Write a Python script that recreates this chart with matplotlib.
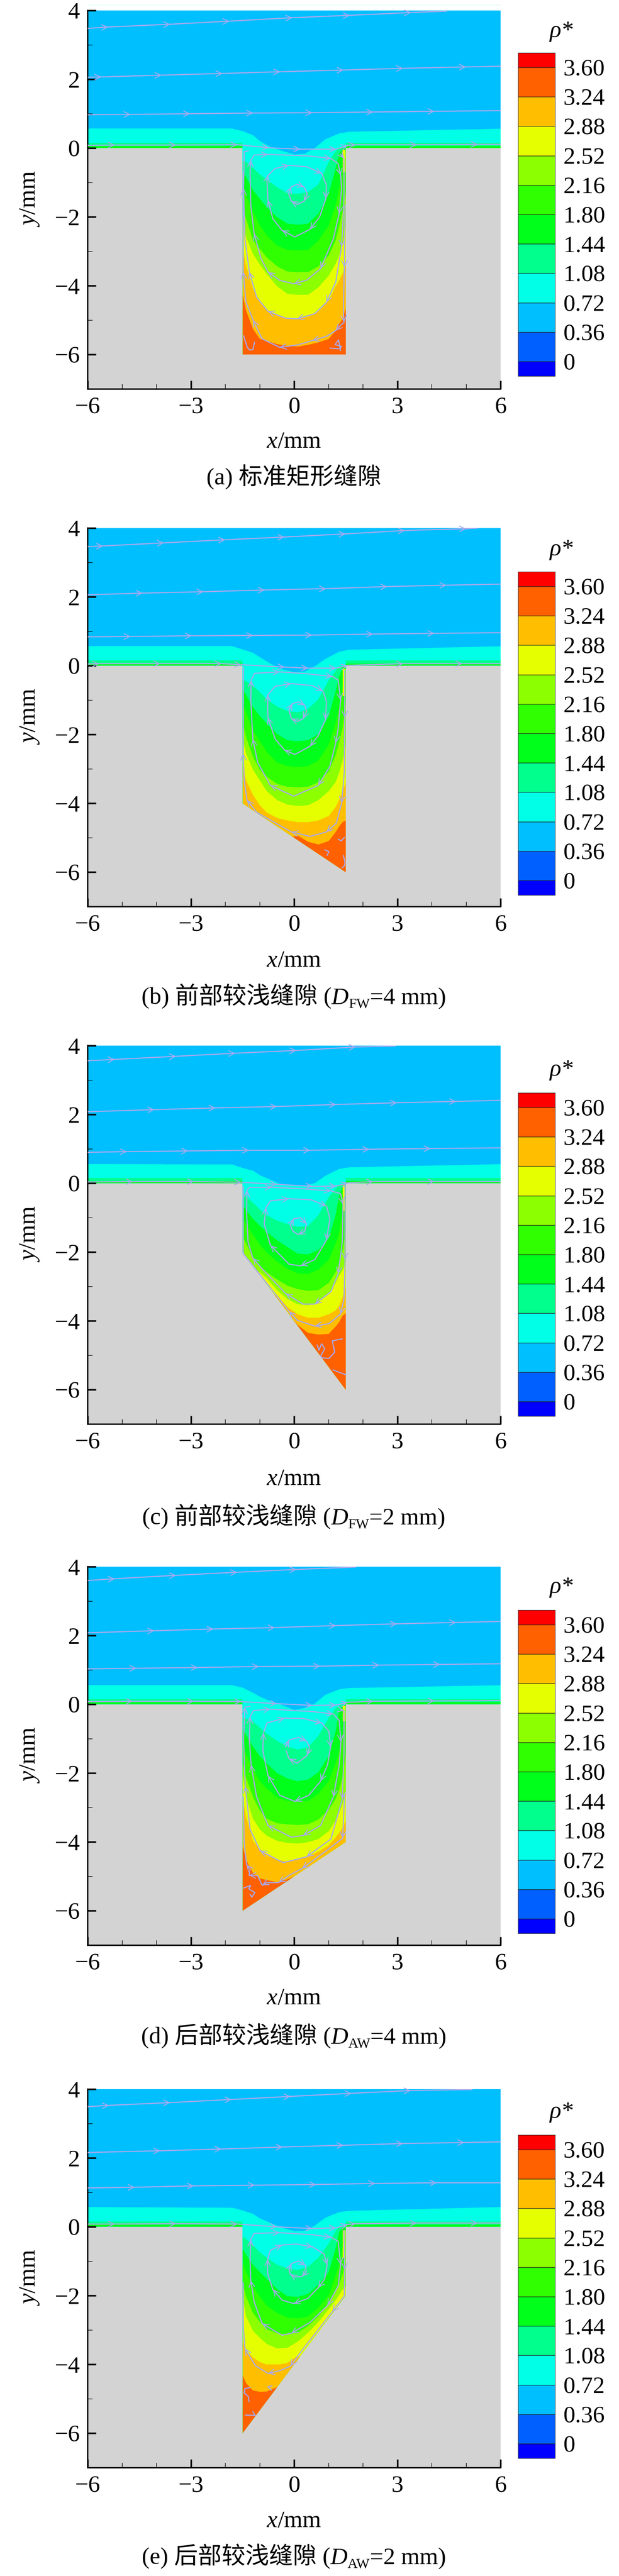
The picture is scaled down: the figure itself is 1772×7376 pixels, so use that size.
import matplotlib
matplotlib.use('Agg')
import matplotlib.pyplot as plt
from matplotlib.patches import PathPatch
from matplotlib.path import Path

plt.rcParams['font.family'] = ['Liberation Serif', 'Noto Sans CJK SC']
plt.rcParams['mathtext.fontset'] = 'custom'
plt.rcParams['mathtext.rm'] = 'Liberation Serif'
plt.rcParams['mathtext.it'] = 'Liberation Serif:italic'

W, H = 1772, 7376
PT = 0.72  # px --> pt at dpi 100

# colour bands, bottom to top of the legend
LEVELS = [-0.18, 0, 0.36, 0.72, 1.08, 1.44, 1.80, 2.16, 2.52, 2.88, 3.24, 3.60, 3.78]
LEVEL_LABELS = ['0', '0.36', '0.72', '1.08', '1.44', '1.80', '2.16', '2.52', '2.88', '3.24', '3.60']
LEVEL_TICKS = [0, 0.36, 0.72, 1.08, 1.44, 1.80, 2.16, 2.52, 2.88, 3.24, 3.60]
COLORS = ['#0000ff', '#0060ff', '#00bfff', '#00ffe6', '#00ff8c', '#00ff1a',
          '#2fff00', '#8cff00', '#e6ff00', '#ffbf00', '#ff6000', '#ff0000']
STREAM_COLOR = '#a9a9ee'
GRAY = '#d3d3d3'

# slot depth on the left and right wall (mm)
DEPTHS = [(6, 6), (4, 6), (2, 6), (6, 4), (6, 2)]

# x positions where the boundaries of cavity bands were read
SLOT_X = [-1.5, -1.4, -1.2, -1.0, -0.8, -0.5, -0.2, 0.1, 0.4, 0.7, 1.0, 1.2, 1.3, 1.4, 1.5]

# rows: y of band lower edge for rho* = 1.08, 1.44, 1.80, 2.16, 2.52, 2.88, 3.24
BANDS_A = [
    [-0.35, -0.40, -0.57, -0.76, -0.91, -1.13, -1.30, -1.32, -1.27, -1.05, -0.40, -0.08, 0, 0, 0],
    [-0.69, -0.83, -1.22, -1.47, -1.71, -2.00, -2.19, -2.22, -2.19, -1.90, -1.32, -0.59, -0.16, 0, 0],
    [-1.13, -1.37, -1.85, -2.24, -2.53, -2.83, -2.95, -2.97, -2.95, -2.68, -2.24, -1.66, -1.17, -0.69, -0.20],
    [-1.66, -2.05, -2.68, -2.92, -3.17, -3.43, -3.58, -3.60, -3.60, -3.43, -3.12, -2.68, -2.29, -1.85, -1.27],
    [-2.05, -2.58, -3.07, -3.38, -3.65, -4.01, -4.23, -4.26, -4.26, -4.04, -3.70, -3.36, -3.12, -2.83, -2.24],
    [-2.92, -3.41, -4.09, -4.48, -4.69, -4.86, -4.94, -4.96, -4.89, -4.74, -4.43, -4.01, -3.84, -3.65, -3.41],
    [-4.26, -4.72, -5.25, -5.54, -5.59, -5.69, -5.74, -5.76, -5.71, -5.64, -5.54, -5.30, -5.11, -4.96, -4.65],
]
BANDS_B = [
    [-0.40, -0.45, -0.58, -0.76, -0.97, -1.18, -1.31, -1.35, -1.25, -0.97, -0.42, -0.14, -0.01, 0, 0],
    [-0.68, -0.84, -1.20, -1.46, -1.67, -1.98, -2.16, -2.19, -2.16, -1.98, -1.46, -0.74, -0.32, -0.04, 0],
    [-1.10, -1.36, -1.88, -2.19, -2.50, -2.81, -2.91, -2.94, -2.91, -2.75, -2.29, -1.67, -1.20, -0.63, -0.17],
    [-1.62, -2.08, -2.65, -3.02, -3.22, -3.43, -3.51, -3.53, -3.51, -3.38, -3.07, -2.60, -2.24, -1.82, -1.00],
    [-2.13, -2.55, -3.02, -3.33, -3.64, -3.90, -4.03, -4.07, -4.05, -3.90, -3.64, -3.38, -3.12, -2.76, -2.29],
    [-2.91, -3.33, -3.75, -4.05, -4.26, -4.42, -4.49, -4.54, -4.54, -4.49, -4.36, -4.10, -3.90, -3.64, -3.38],
    [-6.5, -6.5, -6.5, -6.5, -6.5, -6.5, -5.00, -4.93, -5.11, -5.19, -5.09, -4.83, -4.67, -4.54, -4.49],
]
BANDS_C = [
    [-0.29, -0.38, -0.56, -0.76, -0.92, -1.08, -1.18, -1.26, -1.24, -0.92, -0.40, -0.15, -0.04, 0, 0],
    [-0.64, -0.77, -1.03, -1.23, -1.41, -1.65, -1.85, -2.04, -2.06, -1.93, -1.60, -0.92, -0.35, -0.09, -0.02],
    [-1.00, -1.18, -1.49, -1.78, -2.01, -2.27, -2.48, -2.61, -2.63, -2.50, -2.22, -1.75, -1.44, -0.82, -0.25],
    [-1.54, -1.75, -2.17, -2.42, -2.58, -2.79, -2.97, -3.07, -3.12, -3.10, -2.89, -2.58, -2.32, -1.96, -1.39],
    [-2.40, -2.50, -2.60, -2.58, -2.76, -3.10, -3.36, -3.51, -3.54, -3.46, -3.20, -2.89, -2.68, -2.53, -2.27],
    [-3.00, -3.00, -3.00, -3.10, -3.20, -3.25, -3.59, -3.80, -3.90, -3.90, -3.80, -3.69, -3.56, -3.31, -2.99],
    [-4.00, -4.00, -4.00, -4.00, -4.00, -4.00, -3.77, -4.11, -4.34, -4.39, -4.37, -4.16, -4.03, -3.85, -3.77],
]
BANDS_D = [
    [-0.39, -0.41, -0.49, -0.67, -0.85, -1.06, -1.22, -1.31, -1.24, -0.91, -0.39, -0.10, -0.04, 0, 0],
    [-0.70, -0.88, -1.22, -1.50, -1.71, -1.99, -2.15, -2.23, -2.18, -1.97, -1.50, -0.78, -0.18, -0.03, 0],
    [-1.17, -1.45, -1.87, -2.23, -2.44, -2.70, -2.80, -2.82, -2.80, -2.59, -2.23, -1.71, -1.37, -0.88, -0.31],
    [-1.71, -2.12, -2.69, -3.08, -3.32, -3.45, -3.48, -3.50, -3.48, -3.34, -3.06, -2.75, -2.49, -2.12, -1.40],
    [-2.05, -2.69, -3.32, -3.63, -3.81, -3.96, -4.02, -4.04, -4.00, -3.91, -3.68, -3.37, -3.16, -2.90, -2.49],
    [-2.75, -3.26, -3.96, -4.20, -4.38, -4.51, -4.56, -4.51, -4.40, -4.27, -4.09, -3.86, -3.73, -3.58, -3.37],
    [-4.12, -4.51, -4.90, -5.05, -5.10, -5.16, -5.08, -4.95, -5.5, -5.5, -5.5, -5.5, -5.5, -5.5, -5.5],
]
BANDS_E = [
    [-0.27, -0.35, -0.53, -0.74, -0.89, -1.10, -1.20, -1.25, -1.15, -0.89, -0.48, -0.11, -0.01, 0, 0],
    [-0.63, -0.81, -1.10, -1.31, -1.51, -1.80, -2.01, -2.03, -1.95, -1.67, -1.31, -0.63, -0.16, -0.01, 0],
    [-1.05, -1.31, -1.72, -2.03, -2.29, -2.50, -2.63, -2.65, -2.60, -2.34, -1.98, -1.41, -1.10, -0.58, -0.11],
    [-1.62, -2.03, -2.50, -2.76, -2.97, -3.09, -3.12, -3.07, -2.88, -2.60, -2.19, -1.88, -1.67, -1.40, -0.87],
    [-2.03, -2.60, -3.02, -3.22, -3.40, -3.53, -3.51, -3.33, -3.07, -2.76, -2.39, -2.13, -1.98, -1.82, -1.72],
    [-3.30, -3.59, -3.79, -3.92, -4.00, -4.00, -3.95, -3.74, -4, -4, -4, -4, -4, -4, -4],
    [-4.31, -4.54, -4.75, -4.79, -4.78, -4.65, -4.60, -5, -5, -5, -5, -5, -5, -5, -5],
]

# rho* = 0.72 boundary above the wall and over the slot mouth
MOUTH_X = [-6, -1.8, -1.5, -1.2, -1.0, -0.7, -0.4, 0, 0.3, 0.6, 0.9, 1.3, 1.6, 6]
MOUTH_A = [0.57, 0.57, 0.50, 0.38, 0.21, 0.04, -0.06, -0.18, -0.16, 0.01, 0.26, 0.43, 0.48, 0.57]
MOUTH_B = [0.57, 0.57, 0.48, 0.38, 0.25, 0.07, -0.09, -0.18, -0.17, -0.01, 0.20, 0.41, 0.47, 0.57]
MOUTH_C = [0.56, 0.55, 0.45, 0.37, 0.24, 0.11, -0.02, -0.07, -0.07, 0.01, 0.22, 0.42, 0.47, 0.56]
MOUTH_D = [0.56, 0.56, 0.49, 0.34, 0.23, 0.10, 0, -0.16, -0.10, 0.03, 0.28, 0.44, 0.48, 0.56]
MOUTH_E = [0.58, 0.56, 0.48, 0.38, 0.25, 0.12, -0.01, -0.12, -0.11, 0.04, 0.27, 0.43, 0.47, 0.58]

# thin layers on the flat wall: top of rho* = 1.08 and 1.44 bands
WALL_TOPS = [0.15, 0.06]

# yellow strip along the right slot wall: (top, bottom)
STRIP_X = [1.41, 1.49]
STRIPS = [(-0.05, -0.7), (-0.1, -0.88), (-0.05, -0.8), (-0.05, -0.5), (-0.1, -0.9)]

# streamlines over the wall, left to right
LINES_A = [
    ([-5.99, -5.4, -3.6, -1.88, -0.05, 1.62, 3.4, 4.43], [3.48, 3.52, 3.60, 3.69, 3.79, 3.86, 3.94, 3.98]),
    ([-5.99, -5.6, -3.85, -2.08, -0.4, 1.44, 3.17, 5.0, 6], [2.06, 2.07, 2.12, 2.17, 2.22, 2.27, 2.32, 2.36, 2.38]),
    ([-5.99, -4.75, -3.02, -1.19, 0.53, 2.30, 4.08, 6], [0.97, 0.98, 1.00, 1.02, 1.03, 1.05, 1.07, 1.09]),
    ([-5.99, -5.21, -3.43, -1.65, -0.73, 0.18, 1.22, 1.56, 1.79, 3.57, 5.34, 6],
     [0.08, 0.09, 0.09, 0.10, 0.01, -0.03, -0.03, 0.08, 0.10, 0.10, 0.11, 0.11]),
]
LINES_B = [
    ([-5.99, -5.55, -3.78, -2.0, -0.28, 1.50, 3.22, 5.0, 5.34], [3.46, 3.48, 3.57, 3.66, 3.74, 3.83, 3.93, 3.98, 4.0]),
    ([-5.99, -4.40, -2.63, -0.85, 0.93, 2.71, 4.43, 6], [2.06, 2.11, 2.15, 2.20, 2.24, 2.30, 2.34, 2.37]),
    ([-5.99, -4.75, -2.97, -1.19, 0.53, 2.30, 4.08, 6], [0.84, 0.85, 0.87, 0.88, 0.89, 0.92, 0.94, 0.96]),
    ([-5.99, -5.67, -3.89, -2.11, -1.54, -0.28, 0.41, 1.22, 1.56, 3.17, 4.89, 6],
     [0.05, 0.06, 0.06, 0.06, 0.03, -0.04, -0.07, -0.07, 0.01, 0.06, 0.06, 0.06]),
]
LINES_C = [
    ([-5.99, -5.21, -3.43, -1.71, 0.07, 1.79, 2.94], [3.56, 3.60, 3.69, 3.78, 3.86, 3.96, 3.99]),
    ([-5.99, -4.06, -2.28, -0.50, 1.22, 2.99, 4.71, 6], [2.08, 2.14, 2.19, 2.23, 2.29, 2.34, 2.38, 2.41]),
    ([-5.99, -4.86, -3.08, -1.31, 0.47, 2.19, 3.97, 6], [0.90, 0.92, 0.94, 0.96, 0.96, 0.99, 1.01, 1.03]),
    ([-5.99, -4.69, -2.91, -1.54, -0.5, 0.53, 1.22, 1.56, 2.3, 4.08, 6],
     [0.04, 0.05, 0.05, 0.03, -0.03, -0.09, -0.08, 0.01, 0.05, 0.05, 0.05]),
]
LINES_D = [
    ([-5.99, -5.21, -3.43, -1.65, 0.07, 1.79], [3.60, 3.65, 3.75, 3.84, 3.92, 3.99]),
    ([-5.99, -4.06, -2.34, -0.56, 1.22, 2.99, 4.71, 6], [2.08, 2.14, 2.19, 2.23, 2.29, 2.34, 2.38, 2.41]),
    ([-5.99, -4.58, -2.80, -1.02, 0.76, 2.48, 4.25, 6], [1.03, 1.05, 1.07, 1.10, 1.11, 1.14, 1.16, 1.18]),
    ([-5.99, -4.69, -2.91, -1.54, -0.5, 0.53, 1.22, 1.56, 2.3, 4.08, 6],
     [0.08, 0.09, 0.09, 0.08, 0.02, -0.03, -0.02, 0.06, 0.09, 0.10, 0.11]),
]
LINES_E = [
    ([-5.99, -5.38, -3.60, -1.82, -0.10, 1.67, 3.39, 5.17], [3.49, 3.53, 3.61, 3.70, 3.79, 3.88, 3.96, 3.99]),
    ([-5.99, -3.89, -2.11, -0.33, 1.44, 3.17, 4.95, 6], [2.16, 2.21, 2.26, 2.32, 2.37, 2.42, 2.45, 2.47]),
    ([-5.99, -4.63, -2.91, -1.14, 0.64, 2.36, 4.14, 6], [1.13, 1.15, 1.19, 1.21, 1.23, 1.26, 1.28, 1.28]),
    ([-5.99, -5.21, -3.43, -1.65, -0.5, 0.53, 1.22, 1.56, 1.79, 3.57, 5.34, 6],
     [0.08, 0.08, 0.09, 0.08, 0, -0.05, -0.03, 0.07, 0.09, 0.11, 0.11, 0.11]),
]

# closed vortex streamlines inside the slot (clockwise)
LOOPS_A = [
    ([0.09, 0.29, 0.38, 0.29, 0.09, -0.08, -0.16, -0.09, 0.09], [-1.05, -1.13, -1.32, -1.54, -1.64, -1.54, -1.32, -1.13, -1.05]),
    ([-0.79, -0.76, -0.55, -0.15, 0.36, 0.80, 0.94, 0.92, 0.74, 0.46, 0.02, -0.35, -0.62, -0.76, -0.79],
     [-0.93, -0.79, -0.59, -0.50, -0.54, -0.73, -1.08, -1.47, -2.0, -2.36, -2.58, -2.39, -2.05, -1.51, -0.93]),
    ([-1.28, -1.26, -1.16, -0.76, 0.46, 1.07, 1.28, 1.35, 1.38, 1.31, 1.14, 0.77, 0.36, -0.01, -0.42, -0.76, -0.96, -1.16, -1.26, -1.28],
     [-0.69, -0.35, -0.20, -0.18, -0.23, -0.30, -0.45, -0.79, -1.17, -1.90, -2.63, -3.50, -3.84, -3.94, -3.84, -3.60, -3.21, -2.49, -1.66, -0.69]),
]
LOOPS_B = [
    ([-0.15, -0.05, 0.13, 0.31, 0.36, 0.26, 0.09, -0.08, -0.15], [-1.28, -1.10, -1.05, -1.15, -1.33, -1.54, -1.62, -1.54, -1.28]),
    ([-0.77, -0.76, -0.55, -0.08, 0.53, 0.84, 0.94, 0.91, 0.70, 0.46, 0.02, -0.28, -0.55, -0.76, -0.77],
     [-1.10, -0.84, -0.60, -0.52, -0.58, -0.74, -1.05, -1.57, -2.03, -2.34, -2.58, -2.45, -2.13, -1.51, -1.10]),
    ([-1.26, -1.25, -1.15, -0.42, 0.33, 1.11, 1.28, 1.35, 1.28, 1.21, 1.04, 0.70, -0.01, -0.69, -1.06, -1.20, -1.26],
     [-1.0, -0.42, -0.22, -0.18, -0.23, -0.31, -0.42, -1.0, -1.82, -2.24, -2.92, -3.48, -3.79, -3.48, -2.81, -2.13, -1.0]),
]
LOOPS_C = [
    ([-0.11, -0.01, 0.19, 0.36, 0.31, 0.12, -0.04, -0.11], [-1.21, -1.03, -1.0, -1.18, -1.39, -1.49, -1.39, -1.21]),
    ([-0.87, -0.82, -0.69, -0.15, 0.50, 0.94, 1.04, 0.94, 0.60, 0.19, -0.15, -0.69, -0.87],
     [-1.18, -0.71, -0.51, -0.45, -0.48, -0.66, -1.03, -1.65, -2.22, -2.40, -2.35, -1.80, -1.18]),
    ([-1.38, -1.37, -1.30, -0.65, 0.09, 1.07, 1.35, 1.42, 1.40, 1.28, 1.07, 0.60, 0.26, -0.25, -0.93, -1.20, -1.34, -1.38],
     [-0.87, -0.2, -0.12, -0.12, -0.15, -0.22, -0.30, -0.61, -1.70, -2.63, -3.15, -3.51, -3.51, -3.20, -2.48, -2.17, -1.70, -0.87]),
]
LOOPS_D = [
    ([-0.25, -0.15, 0.13, 0.36, 0.45, 0.38, 0.09, -0.15, -0.23], [-1.24, -1.04, -0.96, -1.07, -1.24, -1.48, -1.71, -1.58, -1.35]),
    ([-0.91, -0.89, -0.79, -0.28, 0.26, 0.80, 1.01, 1.06, 0.97, 0.77, 0.43, 0.02, -0.42, -0.76, -0.91],
     [-1.35, -0.83, -0.54, -0.40, -0.41, -0.54, -0.78, -1.24, -1.76, -2.23, -2.64, -2.82, -2.64, -2.07, -1.35]),
    ([-1.30, -1.28, -1.18, -0.69, 0.54, 1.14, 1.31, 1.36, 1.31, 1.14, 0.77, 0.26, -0.08, -0.76, -1.09, -1.25, -1.30],
     [-1.04, -0.36, -0.18, -0.14, -0.21, -0.28, -0.47, -1.09, -1.76, -2.69, -3.52, -3.81, -3.86, -3.52, -2.69, -1.76, -1.04]),
]
LOOPS_E = [
    ([-0.15, -0.08, 0.13, 0.33, 0.35, 0.23, 0.02, -0.11, -0.15], [-1.23, -1.07, -0.99, -1.12, -1.31, -1.44, -1.46, -1.38, -1.23]),
    ([-0.77, -0.77, -0.69, -0.35, 0.06, 0.53, 0.87, 0.96, 0.89, 0.70, 0.40, -0.01, -0.35, -0.62, -0.77],
     [-1.36, -0.94, -0.68, -0.53, -0.50, -0.58, -0.79, -1.10, -1.51, -1.77, -2.08, -2.23, -2.13, -1.82, -1.36]),
    ([-1.28, -1.26, -1.16, -0.42, 0.53, 1.07, 1.28, 1.35, 1.28, 0.97, 0.46, -0.08, -0.35, -0.93, -1.16, -1.26, -1.28],
     [-0.94, -0.37, -0.19, -0.17, -0.23, -0.30, -0.42, -1.10, -1.72, -2.29, -2.78, -3.09, -3.15, -2.81, -2.19, -1.56, -0.94]),
]

# streamlines hugging the slot walls, listed top-left first (flow runs the other way)
HUGS_A = [
    ([-1.33, -1.45, -1.47, -1.43, -1.30, -1.09, -0.76, -0.25, 0.09, 0.60, 0.94, 1.21, 1.38, 1.45, 1.45, 1.35],
     [-0.08, -0.10, -1.17, -2.63, -3.60, -4.33, -4.74, -4.94, -4.96, -4.81, -4.48, -3.89, -2.87, -1.47, -0.30, -0.18]),
    ([-1.48, -1.48, -1.40, -1.19, -0.93, -0.42, 0.09, 0.53, 0.94, 1.21, 1.35, 1.45, 1.43, 1.46, 1.48],
     [-0.69, -3.6, -4.47, -5.0, -5.54, -5.79, -5.72, -5.59, -5.47, -5.30, -5.15, -5.06, -4.72, -3.46, -1.66]),
]
HUGS_B = [
    ([-1.47, -1.48, -1.45, -1.37, -1.09, -0.08, 0.46, 0.94, 1.23, 1.38, 1.46, 1.47, 1.47],
     [-0.06, -2.55, -3.33, -3.90, -4.26, -4.83, -4.96, -4.83, -4.57, -3.99, -3.07, -1.51, -0.14]),
]
HUGS_C = [
    ([-1.48, -1.48, -0.15, 0.09, 0.60, 1.01, 1.35, 1.45, 1.48, 1.48],
     [-0.10, -2.04, -3.72, -3.98, -4.15, -4.08, -3.80, -3.36, -2.22, -0.04]),
]
HUGS_D = [
    ([-1.28, -1.43, -1.47, -1.42, -1.28, -0.99, -0.32, 0.36, 1.07, 1.40, 1.45, 1.45, 1.35],
     [-0.06, -0.08, -1.04, -2.38, -3.63, -4.25, -4.60, -4.43, -3.91, -2.75, -1.40, -0.18, -0.16]),
    ([-1.48, -1.45, -1.38, -1.28, -1.31, -1.06, -0.93, -0.79, -0.45, -0.15, 0.23, 0.94, 1.41, 1.47],
     [-2.69, -4.04, -4.66, -4.79, -4.97, -4.97, -5.26, -5.18, -5.18, -4.97, -4.77, -4.25, -3.89, -2.59]),
]
HUGS_E = [
    ([-1.48, -1.48, -1.43, -1.13, -0.76, -0.42, -0.11, 0.23, 1.11, 1.46, 1.47, 1.45],
     [-1.62, -2.86, -3.53, -4.03, -4.26, -4.18, -4.05, -3.59, -2.47, -2.01, -1.25, -0.11]),
]

# broken stream pieces in the corners
BITS_A = [
    ([-1.47, -1.36, -1.30, -1.20, -1.15], [-5.45, -5.79, -5.86, -5.86, -5.64]),
    ([1.04, 1.31, 1.38, 1.19, 1.29, 1.35], [-5.81, -5.83, -5.76, -5.71, -5.57, -5.88]),
]
BITS_B = [
    ([1.28, 1.37, 1.46], [-5.04, -5.09, -4.99]),
    ([0.89, 1.01, 0.96], [-5.35, -5.40, -5.51]),
    ([1.43, 1.48, 1.46, 1.40], [-5.51, -5.71, -5.81, -5.87]),
]
BITS_C = [
    ([0.67, 0.72, 0.80, 0.89, 0.77, 0.80, 1.01, 1.18, 1.11, 1.24, 1.40],
     [-4.70, -4.85, -4.66, -4.81, -5.02, -5.07, -5.09, -4.91, -4.58, -4.55, -4.52]),
    ([1.13, 1.41, 1.50], [-5.42, -5.53, -5.56]),
]
BITS_D = [
    ([-1.48, -1.26, -1.32, -1.14, -1.23, -1.28], [-5.34, -5.26, -5.36, -5.47, -5.60, -5.52]),
]
BITS_E = [
    ([-1.28, -1.43, -1.45, -1.33, -1.31], [-4.67, -4.70, -4.83, -4.93, -5.08]),
    ([-1.42, -1.13, -1.20], [-5.47, -5.48, -5.37]),
    ([-0.65, -0.76, -0.65], [-4.62, -4.65, -4.75]),
]

# captions: (label before subscript, subscript, after subscript)
CAPTIONS = [
    ('(a) 标准矩形缝隙', '', ''),
    ('(b) 前部较浅缝隙 (', 'FW', '=4 mm)'),
    ('(c) 前部较浅缝隙 (', 'FW', '=2 mm)'),
    ('(d) 后部较浅缝隙 (', 'AW', '=4 mm)'),
    ('(e) 后部较浅缝隙 (', 'AW', '=2 mm)'),
]

# pixel layout per panel: axes bottom, legend top, rho label, x label, caption
AX_BOTTOM = [1114, 2596, 4078, 5570, 7066]
CB_TOP = [151, 1637, 3129, 4610, 6113]
RHO_Y = [90, 1573, 3064, 4544, 6047]
XLABEL_Y = [1265, 2751, 4235, 5722, 7219]
CAPTION_Y = [1367, 2854, 4344, 5831, 7321]

ALL_BANDS = [BANDS_A, BANDS_B, BANDS_C, BANDS_D, BANDS_E]
ALL_MOUTH = [MOUTH_A, MOUTH_B, MOUTH_C, MOUTH_D, MOUTH_E]
ALL_LINES = [LINES_A, LINES_B, LINES_C, LINES_D, LINES_E]
ALL_LOOPS = [LOOPS_A, LOOPS_B, LOOPS_C, LOOPS_D, LOOPS_E]
ALL_HUGS = [HUGS_A, HUGS_B, HUGS_C, HUGS_D, HUGS_E]
ALL_BITS = [BITS_A, BITS_B, BITS_C, BITS_D, BITS_E]

fig = plt.figure(figsize=(W / 100, H / 100), dpi=100, facecolor='white')
TICK_SIZE = 49
CAP_SIZE = 49


def add_axes_px(left, top, width, height):
    return fig.add_axes([left / W, 1 - (top + height) / H, width / W, height / H])


def draw_stream(ax, xs, ys, step=0):
    ax.plot(xs, ys, color=STREAM_COLOR, lw=2.3, solid_capstyle='round', zorder=5)
    if step == 0:
        return
    for i in range(1, len(xs) - 1, step):
        dx, dy = xs[i] - xs[i - 1], ys[i] - ys[i - 1]
        n = (dx ** 2 + dy ** 2) ** 0.5
        if n == 0:
            continue
        ax.annotate('', xy=(xs[i], ys[i]),
                    xytext=(xs[i] - 0.1 * dx / n, ys[i] - 0.1 * dy / n),
                    arrowprops=dict(arrowstyle='->,head_length=0.58,head_width=0.29',
                                    mutation_scale=20, color=STREAM_COLOR, lw=1.8,
                                    shrinkA=0, shrinkB=0), zorder=6)


def draw_caption(i):
    head, sub, tail = CAPTIONS[i]
    renderer = fig.canvas.get_renderer()
    pieces = [(head, {}, 0)]
    if sub:
        pieces += [('D', {'style': 'italic'}, 0), (sub, {'fontsize': 29}, -11), (tail, {}, 0)]
    items = []
    for text, kw, shift in pieces:
        opts = dict(fontsize=CAP_SIZE, va='baseline', ha='left')
        opts.update(kw)
        t = fig.text(0, 0, text, **opts)
        items.append((t, shift, t.get_window_extent(renderer).width))
    x = 841 - sum(w for _, _, w in items) / 2
    for t, shift, w in items:
        t.set_position((x / W, 1 - (CAPTION_Y[i] + 21 - shift) / H))
        x += w


for p in range(5):
    bottom = AX_BOTTOM[p]
    ax = add_axes_px(251, bottom - 1084, 1182, 1084)
    ax.set_facecolor(GRAY)
    ax.set_xlim(-6, 6)
    ax.set_ylim(-7, 4)

    dl, dr = DEPTHS[p]
    verts = [(-6, 0), (-1.5, 0), (-1.5, -dl), (1.5, -dr), (1.5, 0), (6, 0), (6, 4), (-6, 4), (-6, 0)]
    fluid = PathPatch(Path(verts), facecolor=COLORS[2], edgecolor='none', zorder=1)
    ax.add_patch(fluid)

    # rho* = 0.72 layer
    c = ax.fill_between(MOUTH_X, ALL_MOUTH[p], -7, color=COLORS[3], lw=0, zorder=1.1)
    c.set_clip_path(fluid)

    # thin wall layers outside the slot
    for side in ([-6, -1.5], [1.5, 6]):
        for top, col in zip(WALL_TOPS, COLORS[4:6]):
            ax.fill_between(side, [top, top], 0, color=col, lw=0, zorder=1.2)

    # bands inside the slot, painted from light to heavy
    for k, row in enumerate(ALL_BANDS[p]):
        col = COLORS[4 + k]
        c = ax.fill_between(SLOT_X, row, -7, color=col, lw=0, zorder=2 + 0.1 * k)
        c.set_clip_path(fluid)
    c = ax.fill_between(STRIP_X, [STRIPS[p][0]] * 2, [STRIPS[p][1]] * 2, color=COLORS[8], lw=0, zorder=3)
    c.set_clip_path(fluid)

    for xs, ys in ALL_LINES[p]:
        draw_stream(ax, xs, ys, step=1)
    for xs, ys in ALL_LOOPS[p]:
        draw_stream(ax, xs, ys, step=2)
    for xs, ys in ALL_HUGS[p]:
        draw_stream(ax, xs[::-1], ys[::-1], step=2)
    for xs, ys in ALL_BITS[p]:
        draw_stream(ax, xs, ys)
    if p == 0:
        ax.plot([-6, 6], [4.16, 4.16], color='#d6f5ee', lw=0.8, clip_on=False)

    for name in ['top', 'right']:
        ax.spines[name].set_visible(False)
    for name in ['left', 'bottom']:
        ax.spines[name].set_linewidth(4 * PT)
    ax.set_xticks([-6, -3, 0, 3, 6])
    ax.set_xticks(range(-6, 7), minor=True)
    ax.set_yticks([-6, -4, -2, 0, 2, 4])
    ax.set_yticks(range(-7, 5), minor=True)
    ax.tick_params(which='major', direction='in', length=24 * PT, width=4.5 * PT,
                   labelsize=TICK_SIZE, pad=16)
    ax.tick_params(which='minor', direction='in', length=14 * PT, width=1.6 * PT)
    ax.set_axisbelow(False)

    fig.text(841 / W, 1 - XLABEL_Y[p] / H, r'$\mathit{x}$/mm', fontsize=TICK_SIZE,
             ha='center', va='center')
    fig.text(85 / W, 1 - (bottom - 545) / H, r'$\mathit{y}$/mm', fontsize=TICK_SIZE,
             ha='center', va='center', rotation=90)

    # contour legend
    cax = add_axes_px(1483, CB_TOP[p], 106, 926)
    cax.set_xlim(0, 1)
    cax.set_ylim(LEVELS[0], LEVELS[-1])
    cax.bar([0.5] * len(COLORS), [b - a for a, b in zip(LEVELS[:-1], LEVELS[1:])], width=1,
            bottom=LEVELS[:-1], color=COLORS, edgecolor='#202020', linewidth=1.0)
    cax.set_xticks([])
    cax.yaxis.tick_right()
    cax.set_yticks(LEVEL_TICKS)
    cax.set_yticklabels(LEVEL_LABELS, fontsize=TICK_SIZE)
    cax.tick_params(axis='y', length=0, pad=17)
    for s in cax.spines.values():
        s.set_linewidth(0.8)
        s.set_color('#202020')

    fig.text(1607 / W, 1 - RHO_Y[p] / H, 'ρ*', fontsize=TICK_SIZE, style='italic',
             ha='center', va='center')

    draw_caption(p)

fig.savefig('out.png', dpi=100)
